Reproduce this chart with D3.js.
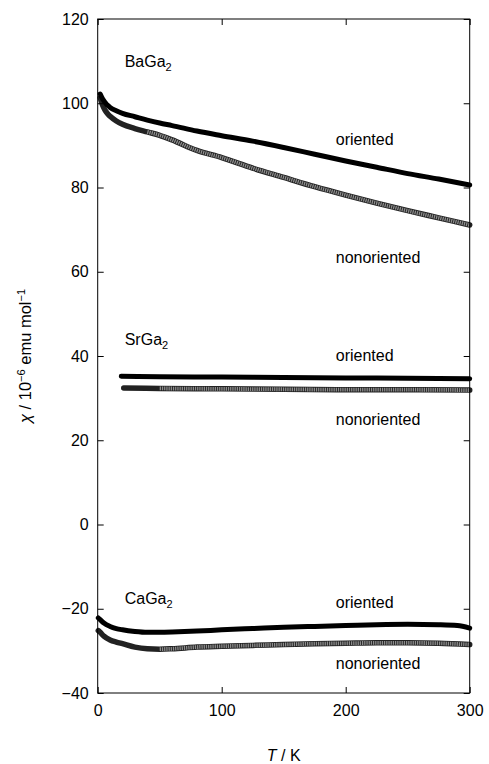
<!DOCTYPE html>
<html>
<head>
<meta charset="utf-8">
<script src="https://cdn.jsdelivr.net/npm/d3@7"></script>
<style>
  body { margin: 0; background: #fff; }
  svg { display: block; font-family: "Liberation Sans", Arial, sans-serif; }
</style>
</head>
<body>
<svg id="chart" width="489" height="764"></svg>
<script>
// axis ticks
const tempTicks = [0, 100, 200, 300];
const chiTicks = [-40, -20, 0, 20, 40, 60, 80, 100, 120];

// [T (K), chi (1e-6 emu/mol)]
const baOriented = [[2, 102.2], [4, 101], [6, 100.2], [8, 99.5], [10, 99], [15, 98.2], [20, 97.6], [30, 96.8],
    [40, 96], [50, 95.3], [60, 94.7], [80, 93.4], [100, 92.3], [125, 91], [150, 89.5], [175, 87.9],
    [200, 86.3], [225, 84.8], [250, 83.3], [275, 82], [300, 80.6]];
const baNonoriented = [[2, 101.3], [4, 99.5], [6, 98.3], [8, 97.5], [10, 96.9], [15, 95.8], [20, 95], [30, 94],
    [40, 93.2], [50, 92.4], [60, 91.3], [80, 88.8], [100, 87.1], [125, 84.6], [150, 82.4], [175, 80.2],
    [200, 78.2], [225, 76.3], [250, 74.5], [275, 72.8], [300, 71.1]];
const srOriented = [[19, 35.2], [50, 35.1], [100, 35.0], [150, 34.9], [200, 34.8], [250, 34.7], [300, 34.6]];
const srNonoriented = [[21, 32.4], [50, 32.3], [100, 32.2], [150, 32.1], [200, 32.0], [250, 32.0], [300, 31.9]];
const caOriented = [[0.5, -22.2], [2, -22.6], [5, -23.4], [10, -24.2], [15, -24.7], [20, -25.0], [30, -25.4],
    [40, -25.6], [60, -25.5], [80, -25.3], [100, -25.0], [125, -24.7], [150, -24.4], [175, -24.2],
    [200, -24.0], [225, -23.8], [250, -23.7], [275, -23.8], [290, -24.0], [300, -24.6]];
const caNonoriented = [[0.5, -25.2], [2, -25.6], [5, -26.5], [10, -27.4], [15, -27.9], [20, -28.3], [30, -29.1],
    [40, -29.5], [50, -29.6], [60, -29.5], [80, -29.1], [100, -28.9], [125, -28.7], [150, -28.5],
    [175, -28.3], [200, -28.2], [225, -28.1], [250, -28.1], [275, -28.2], [300, -28.5]];

const compounds = [
    { name: 'BaGa', chi: 110, oriented: baOriented, nonoriented: baNonoriented, dense: 40, labO: 91.5, labN: 63.5 },
    { name: 'SrGa', chi: 44, oriented: srOriented, nonoriented: srNonoriented, dense: 28, labO: 40.2, labN: 25 },
    { name: 'CaGa', chi: -17.5, oriented: caOriented, nonoriented: caNonoriented, dense: 45, labO: -18.5, labN: -33 },
];

const svg = d3.select('#chart');
const margin = { left: 97.7, top: 19, right: 19.3, bottom: 71 };
const width = +svg.attr('width') - margin.left - margin.right;
const height = +svg.attr('height') - margin.top - margin.bottom;

const x = d3.scaleLinear().domain([0, 300]).range([0, width]);
const y = d3.scaleLinear().domain([-40, 120]).range([height, 0]);

const g = svg.append('g').attr('transform', `translate(${margin.left},${margin.top})`);

const line = d3.line()
    .x(d => x(d[0]))
    .y(d => y(d[1]))
    .curve(d3.curveMonotoneX);

// data
compounds.forEach(c => {
    // nonoriented: dark band, grey hatched where the open markers thin out
    g.append('path')
        .attr('d', line(c.nonoriented))
        .attr('fill', 'none')
        .attr('stroke', '#222')
        .attr('stroke-width', 5.5)
        .attr('stroke-linecap', 'round');
    g.append('path')
        .attr('d', line(c.nonoriented.filter(d => d[0] >= c.dense)))
        .attr('fill', 'none')
        .attr('stroke', '#8c8c8c')
        .attr('stroke-width', 3.8)
        .attr('stroke-dasharray', '1.3 0.9');

    g.append('path')
        .attr('d', line(c.oriented))
        .attr('fill', 'none')
        .attr('stroke', '#000')
        .attr('stroke-width', 5)
        .attr('stroke-linecap', 'round');

    const name = g.append('text')
        .attr('x', 27)
        .attr('y', y(c.chi))
        .attr('dy', '0.35em')
        .attr('font-size', 16)
        .text(c.name);
    name.append('tspan')
        .attr('font-size', 11)
        .attr('dy', 4)
        .text('2');

    g.append('text')
        .attr('x', x(192))
        .attr('y', y(c.labO))
        .attr('dy', '0.35em')
        .attr('font-size', 16)
        .text('oriented');
    g.append('text')
        .attr('x', x(192))
        .attr('y', y(c.labN))
        .attr('dy', '0.35em')
        .attr('font-size', 16)
        .text('nonoriented');
});

// frame
g.append('rect')
    .attr('width', width)
    .attr('height', height)
    .attr('fill', 'none')
    .attr('stroke', '#000')
    .attr('stroke-width', 1);

const tickLen = 6;

// left axis with labels, ticks inward
const leftAxis = g.append('g').call(d3.axisLeft(y).tickValues(chiTicks).tickSize(-tickLen).tickPadding(9)
    .tickFormat(d => d < 0 ? '\u2212' + Math.abs(d) : d));
// right axis, ticks only
const rightAxis = g.append('g').attr('transform', `translate(${width},0)`)
    .call(d3.axisRight(y).tickValues(chiTicks).tickSize(-tickLen).tickFormat(''));
// bottom axis with labels
const bottomAxis = g.append('g').attr('transform', `translate(0,${height})`)
    .call(d3.axisBottom(x).tickValues(tempTicks).tickSize(-tickLen).tickPadding(12));
// top axis, ticks only
const topAxis = g.append('g')
    .call(d3.axisTop(x).tickValues(tempTicks).tickSize(-tickLen).tickFormat(''));

[leftAxis, rightAxis, bottomAxis, topAxis].forEach(a => {
    a.select('.domain').remove();
    a.selectAll('line').attr('stroke', '#000');
    a.selectAll('text')
        .attr('font-size', 16)
        .attr('font-family', '"Liberation Sans", Arial, sans-serif')
        .attr('fill', '#000');
});

// axis titles
const xt = svg.append('text')
    .attr('x', margin.left + width / 2)
    .attr('y', 761)
    .attr('text-anchor', 'middle')
    .attr('font-size', 16);
xt.append('tspan').attr('font-style', 'italic').text('T');
xt.append('tspan').text(' / K');

const yt = svg.append('text')
    .attr('transform', `translate(31,${margin.top + height / 2}) rotate(-90)`)
    .attr('text-anchor', 'middle')
    .attr('font-size', 16.5);
yt.append('tspan').attr('font-style', 'italic').text('\u03c7');
yt.append('tspan').text(' / 10');
yt.append('tspan').attr('font-size', 11).attr('dy', -6).text('\u22126');
yt.append('tspan').attr('dy', 6).text(' emu mol');
yt.append('tspan').attr('font-size', 11).attr('dy', -6).text('\u22121');
</script>
</body>
</html>
